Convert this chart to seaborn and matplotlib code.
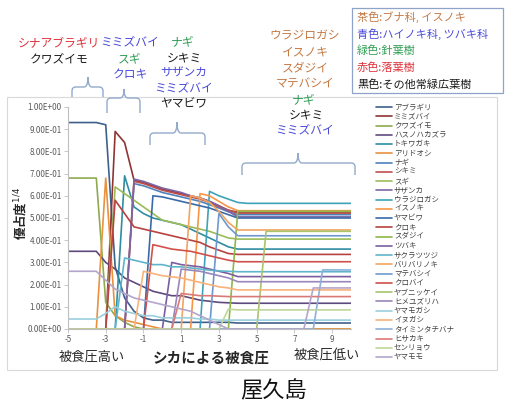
import numpy as np
import pandas as pd
import matplotlib
matplotlib.use("Agg")
import matplotlib.pyplot as plt
from matplotlib.lines import Line2D
from matplotlib.patches import Rectangle, PathPatch
from matplotlib.path import Path
from matplotlib.ticker import FuncFormatter
import seaborn as sns

# ---- data: dominance^(1/4) along the deer browsing-pressure gradient ----
pressure = [-5, -4.5, -4, -3.5, -3, -2.5, -2, -1.5, -1, -0.5, 0, 0.5, 1, 1.5, 2, 2.5,
            3, 3.5, 4, 4.5, 5, 5.5, 6, 6.5, 7, 7.5, 8, 8.5, 9, 9.5, 10]

species = ["アブラギリ", "ミミズバイ", "クワズイモ", "ハスノハカズラ", "トキワガキ", "アリドオシ",
           "ナギ", "シキミ", "スギ", "サザンカ", "ウラジロガシ", "イスノキ", "ヤマビワ", "クロキ",
           "スダジイ", "ツバキ", "サクラツツジ", "バリバリノキ", "マテバシイ", "クロバイ",
           "ヤブニッケイ", "ヒメユズリハ", "ヤマモガシ", "イヌガシ", "タイミンタチバナ",
           "ヒサカキ", "センリョウ", "ヤマモモ"]

aburagiri = [0.93, 0.93, 0.93, 0.93, 0.92, 0.28, 0.14, 0.08, 0.05, 0.04, 0.04, 0.03, 0.03, 0.03, 0.03, 0.03,
             0.03, 0.03, 0.027, 0.027, 0.027, 0.027, 0.027, 0.027, 0.027, 0.027, 0.027, 0.027, 0.027, 0.027, 0.027]
mimizubai = [0, 0, 0, 0, 0, 0.89, 0.84, 0.67, 0.66, 0.645, 0.63, 0.62, 0.61, 0.60, 0.59, 0.575,
             0.555, 0.535, 0.526, 0.526, 0.526, 0.526, 0.526, 0.526, 0.526, 0.526, 0.526, 0.526, 0.526, 0.526, 0.526]
kuwazuimo = [0.68, 0.68, 0.68, 0.68, 0.12, 0.06, 0.03, 0.01, 0, 0, 0, 0, 0, 0, 0, 0,
             0, 0, 0, 0, 0, 0, 0, 0, 0, 0, 0, 0, 0, 0, 0]
hasunohakazura = [0.35, 0.35, 0.35, 0.35, 0.30, 0.27, 0.23, 0.21, 0.19, 0.17, 0.16, 0.15, 0.15, 0.14, 0.13, 0.125,
                  0.12, 0.118, 0.116, 0.116, 0.116, 0.116, 0.116, 0.116, 0.116, 0.116, 0.116, 0.116, 0.116, 0.116, 0.116]
tokiwagaki = [0, 0, 0, 0, 0, 0, 0.69, 0.55, 0.52, 0.50, 0.49, 0.48, 0.47, 0.45, 0.43, 0.41,
              0.39, 0.37, 0.36, 0.36, 0.36, 0.36, 0.36, 0.36, 0.36, 0.36, 0.36, 0.36, 0.36, 0.36, 0.36]
aridooshi = [0, 0, 0, 0, 0.68, 0.06, 0.04, 0.03, 0.02, 0.01, 0, 0, 0, 0, 0, 0,
             0, 0, 0, 0, 0, 0, 0, 0, 0, 0, 0, 0, 0, 0, 0]
nagi = [0, 0, 0, 0, 0, 0, 0, 0.655, 0.645, 0.63, 0.615, 0.605, 0.595, 0.585, 0.575, 0.56,
        0.545, 0.528, 0.515, 0.515, 0.515, 0.515, 0.515, 0.515, 0.515, 0.515, 0.515, 0.515, 0.515, 0.515, 0.515]
shikimi = [0, 0, 0, 0, 0, 0, 0, 0.665, 0.655, 0.64, 0.625, 0.615, 0.605, 0.595, 0.585, 0.57,
           0.55, 0.535, 0.522, 0.522, 0.522, 0.522, 0.522, 0.522, 0.522, 0.522, 0.522, 0.522, 0.522, 0.522, 0.522]
sugi = [0, 0, 0, 0, 0, 0.64, 0.61, 0.58, 0.55, 0.52, 0.49, 0.48, 0.47, 0.46, 0.45, 0.44,
        0.425, 0.41, 0.405, 0.405, 0.405, 0.405, 0.405, 0.405, 0.405, 0.405, 0.405, 0.405, 0.405, 0.405, 0.405]
sazanka = [0, 0, 0, 0, 0, 0, 0, 0.675, 0.665, 0.65, 0.635, 0.625, 0.615, 0.60, 0.59, 0.575,
           0.555, 0.53, 0.505, 0.505, 0.505, 0.505, 0.505, 0.505, 0.505, 0.505, 0.505, 0.505, 0.505, 0.505, 0.505]
urajirogashi = [0, 0, 0, 0, 0, 0, 0, 0, 0, 0, 0, 0, 0, 0, 0, 0.62,
                0.60, 0.585, 0.57, 0.566, 0.566, 0.566, 0.566, 0.566, 0.566, 0.566, 0.566, 0.566, 0.566, 0.566, 0.566]
isunoki = [0, 0, 0, 0, 0, 0, 0, 0, 0, 0, 0, 0, 0, 0, 0.61, 0.60,
           0.575, 0.55, 0.533, 0.533, 0.533, 0.533, 0.533, 0.533, 0.533, 0.533, 0.533, 0.533, 0.533, 0.533, 0.533]
yamabiwa = [0, 0, 0, 0, 0, 0, 0, 0, 0, 0.60, 0.595, 0.585, 0.575, 0.565, 0.555, 0.545,
            0.53, 0.515, 0.50, 0.50, 0.50, 0.50, 0.50, 0.50, 0.50, 0.50, 0.50, 0.50, 0.50, 0.50, 0.50]
kuroki = [0, 0, 0, 0, 0, 0.58, 0.52, 0.46, 0.45, 0.44, 0.43, 0.42, 0.41, 0.40, 0.39, 0.37,
          0.355, 0.34, 0.336, 0.336, 0.336, 0.336, 0.336, 0.336, 0.336, 0.336, 0.336, 0.336, 0.336, 0.336, 0.336]
sudajii = [0, 0, 0, 0, 0, 0, 0, 0, 0, 0, 0, 0, 0, 0, 0, 0,
           0, 0, 0.53, 0.53, 0.53, 0.53, 0.53, 0.53, 0.53, 0.53, 0.53, 0.53, 0.53, 0.53, 0.53]
tsubaki = [0, 0, 0, 0, 0, 0, 0, 0, 0, 0, 0, 0.30, 0.29, 0.285, 0.28, 0.27,
           0.26, 0.25, 0.236, 0.236, 0.236, 0.236, 0.236, 0.236, 0.236, 0.236, 0.236, 0.236, 0.236, 0.236, 0.236]
sakuratsutsuji = [0, 0, 0, 0, 0, 0, 0.32, 0.31, 0.30, 0.29, 0.29, 0.28, 0.28, 0.275, 0.27, 0.265,
                  0.262, 0.26, 0.258, 0.258, 0.258, 0.258, 0.258, 0.258, 0.258, 0.258, 0.258, 0.258, 0.258, 0.258, 0.258]
baribarinoki = [0, 0, 0, 0, 0, 0, 0, 0, 0, 0, 0, 0, 0, 0.60, 0.59, 0.57,
                0.53, 0.48, 0.446, 0.446, 0.446, 0.446, 0.446, 0.446, 0.446, 0.446, 0.446, 0.446, 0.446, 0.446, 0.446]
matebashii = [0, 0, 0, 0, 0, 0, 0, 0, 0, 0, 0, 0, 0, 0, 0, 0,
              0.52, 0.46, 0.42, 0.42, 0.42, 0.42, 0.42, 0.42, 0.42, 0.42, 0.42, 0.42, 0.42, 0.42, 0.42]
kurobai = [0, 0, 0, 0, 0, 0, 0, 0, 0, 0.38, 0.37, 0.36, 0.355, 0.35, 0.34, 0.33,
           0.32, 0.31, 0.303, 0.303, 0.303, 0.303, 0.303, 0.303, 0.303, 0.303, 0.303, 0.303, 0.303, 0.303, 0.303]
yabunikkei = [0, 0, 0, 0, 0, 0, 0, 0, 0, 0, 0, 0, 0, 0, 0, 0,
              0, 0, 0, 0, 0, 0.44, 0.44, 0.44, 0.44, 0.44, 0.44, 0.44, 0.44, 0.44, 0.44]
himeyuzuriha = [0, 0, 0, 0, 0, 0, 0, 0, 0, 0, 0, 0, 0.27, 0.265, 0.26, 0.25,
                0.24, 0.23, 0.213, 0.213, 0.213, 0.213, 0.213, 0.213, 0.213, 0.213, 0.213, 0.213, 0.213, 0.213, 0.213]
yamamogashi = [0.045, 0.045, 0.045, 0.045, 0.07, 0.10, 0.08, 0.07, 0.06, 0.06, 0.05, 0.05, 0.05, 0.05, 0.045, 0.045,
               0.04, 0.04, 0.04, 0.04, 0.04, 0.04, 0.04, 0.04, 0.04, 0.04, 0.04, 0.04, 0.04, 0.04, 0.04]
inugashi = [0, 0, 0, 0, 0, 0, 0, 0, 0.26, 0.25, 0.24, 0.235, 0.23, 0.22, 0.21, 0.20,
            0.19, 0.185, 0.176, 0.176, 0.176, 0.176, 0.176, 0.176, 0.176, 0.176, 0.176, 0.176, 0.176, 0.176, 0.176]
taimintachibana = [0, 0, 0, 0, 0, 0, 0, 0, 0, 0, 0, 0, 0, 0, 0, 0,
                   0, 0, 0, 0, 0, 0, 0, 0, 0, 0, 0, 0.266, 0.266, 0.266, 0.266]
hisakaki = [0, 0, 0, 0, 0, 0, 0, 0, 0, 0, 0, 0, 0.16, 0.155, 0.15, 0.15,
            0.148, 0.146, 0.146, 0.146, 0.146, 0.146, 0.146, 0.146, 0.146, 0.146, 0.146, 0.146, 0.146, 0.146, 0.146]
senryou = [0, 0, 0, 0, 0, 0, 0, 0, 0, 0, 0, 0, 0, 0, 0, 0,
           0, 0.09, 0.086, 0.086, 0.086, 0.086, 0.086, 0.086, 0.086, 0.086, 0.086, 0.086, 0.086, 0.086, 0.086]
yamamomo = [0.26, 0.26, 0.26, 0.26, 0.22, 0.18, 0.16, 0.14, 0.13, 0.12, 0.11, 0.10, 0.09, 0.08, 0.06, 0.04,
            0.02, 0, 0, 0, 0, 0, 0, 0, 0, 0, 0.185, 0.185, 0.185, 0.185, 0.185]

series_values = [aburagiri, mimizubai, kuwazuimo, hasunohakazura, tokiwagaki, aridooshi,
                 nagi, shikimi, sugi, sazanka, urajirogashi, isunoki, yamabiwa, kuroki,
                 sudajii, tsubaki, sakuratsutsuji, baribarinoki, matebashii, kurobai,
                 yabunikkei, himeyuzuriha, yamamogashi, inugashi, taimintachibana,
                 hisakaki, senryou, yamamomo]

line_colors = ["#40608C", "#8E3533", "#8FAA4F", "#5E4A7E", "#2F8DA3", "#E8913F",
               "#4F81BD", "#C0504D", "#9BBB59", "#8064A2", "#3FA3B8", "#F79646",
               "#3B6AA8", "#B8423F", "#8DB84A", "#7B5EA0", "#5FB5CC", "#F4A460",
               "#6E98CD", "#D0504C", "#A8C46E", "#9A86BA", "#9ACFDE", "#F8B27A",
               "#8DB0DA", "#D97A78", "#BFD69A", "#B3A5CC"]

y_ticks = [0, 0.1, 0.2, 0.3, 0.4, 0.5, 0.6, 0.7, 0.8, 0.9, 1.0]
x_ticks = [-5, -3, -1, 1, 3, 5, 7, 9]

rows = []
for name, vals in zip(species, series_values):
    assert len(vals) == len(pressure)
    for p, v in zip(pressure, vals):
        rows.append((name, p, v))
df = pd.DataFrame(rows, columns=["species", "pressure", "value"])

# ---- figure ----
sns.set_theme(style="white")
plt.rcParams["font.family"] = ["Noto Sans CJK JP", "DejaVu Sans"]

W, H = 515, 401
fig = plt.figure(figsize=(W / 100, H / 100), dpi=100)
fig.patch.set_facecolor("white")


def fx(px):
    return px / W


def fy(py):
    return 1 - py / H


# chart area frame
fig.add_artist(Rectangle((fx(7), fy(370)), fx(497) - fx(7), fy(97) - fy(370),
                         transform=fig.transFigure, fill=False, edgecolor="#D9D9D9", lw=0.8))

ax = fig.add_axes([fx(68), fy(329), fx(351) - fx(68), fy(107) - fy(329)])
sns.lineplot(data=df, x="pressure", y="value", hue="species", hue_order=species,
             palette=dict(zip(species, line_colors)), estimator=None, legend=False,
             linewidth=1.2, solid_joinstyle="round", ax=ax)

ax.set_xlim(-5, 10)
ax.set_ylim(0, 1.0)
ax.set_yticks(y_ticks)
ax.set_xticks(x_ticks)
ax.yaxis.set_major_formatter(FuncFormatter(lambda v, p: f"{v:.2E}"))
ax.xaxis.set_major_formatter(FuncFormatter(lambda v, p: f"{v:g}"))
ax.set_xlabel("")
ax.set_ylabel("")
ax.tick_params(axis="both", labelsize=5.8, labelcolor="#595959", color="#BFBFBF",
               length=3, width=0.6, pad=1.5, direction="out")
ax.tick_params(axis="y", left=True)
ax.tick_params(axis="x", bottom=True)
for side in ("top", "right"):
    ax.spines[side].set_visible(False)
for side in ("left", "bottom"):
    ax.spines[side].set_color("#BFBFBF")
    ax.spines[side].set_linewidth(0.8)
ax.set_facecolor("none")

# axis titles
fig.text(fx(21), fy(213), "優占度$^{1/4}$", rotation=90, ha="center", va="center",
         fontsize=9, fontweight="bold", color="#262626")
fig.text(fx(92), fy(357), "被食圧高い", ha="center", va="center", fontsize=9.5, color="#262626")
fig.text(fx(211), fy(358), "シカによる被食圧", ha="center", va="center", fontsize=10.5,
         fontweight="bold", color="#262626")
fig.text(fx(327), fy(355), "被食圧低い", ha="center", va="center", fontsize=9.5, color="#262626")
fig.text(fx(274), fy(391), "屋久島", ha="center", va="center", fontsize=16, color="#111111")

# series legend
for i, (name, col) in enumerate(zip(species, line_colors)):
    yy = 107 + i * 9.26
    fig.add_artist(Line2D([fx(376), fx(392)], [fy(yy), fy(yy)], transform=fig.transFigure,
                          color=col, lw=1.2))
    fig.text(fx(394), fy(yy), name, ha="left", va="center", fontsize=5.4, color="#404040")

# colour key box
fig.add_artist(Rectangle((fx(352), fy(93)), fx(503) - fx(352), fy(8) - fy(93),
                         transform=fig.transFigure, fill=False, edgecolor="#8FA3C8", lw=0.9))
BROWN, BLUE, GREEN, RED, BLACK = "#C47A45", "#4A4AD8", "#2F9E55", "#E0303A", "#1A1A1A"
key_lines = [("茶色:ブナ科, イスノキ", BROWN), ("青色:ハイノキ科, ツバキ科", BLUE),
             ("緑色:針葉樹", GREEN), ("赤色:落葉樹", RED), ("黒色:その他常緑広葉樹", BLACK)]
for j, (txt, col) in enumerate(key_lines):
    fig.text(fx(357), fy(17 + j * 16.8), txt, ha="left", va="center", fontsize=8, color=col)

# dominant species above each pressure range
labels = [
    ("シナアブラギリ", 59, 43, RED), ("クワズイモ", 59, 60, BLACK),
    ("ミミズバイ", 130, 43, BLUE), ("スギ", 130, 59, GREEN), ("クロキ", 130, 75, BLUE),
    ("ナギ", 183, 42, GREEN), ("シキミ", 184, 58, BLACK), ("サザンカ", 184, 73, BLUE),
    ("ミミズバイ", 184, 89, BLUE), ("ヤマビワ", 184, 104, BLACK),
    ("ウラジロガシ", 305, 36, BROWN), ("イスノキ", 305, 52, BROWN), ("スダジイ", 305, 68, BROWN),
    ("マテバシイ", 305, 84, BROWN), ("ナギ", 304, 100, GREEN), ("シキミ", 306, 115, BLACK),
    ("ミミズバイ", 305, 131, BLUE),
]
for txt, x, y, col in labels:
    fig.text(fx(x), fy(y), txt, ha="center", va="center", fontsize=8.5, color=col)


def brace(x0, x1, xm, y_end, y_line, y_tip, r=4):
    pts = [(x0, y_end), (x0, y_line + r), (x0, y_line), (x0 + r, y_line),
           (xm - r, y_line), (xm, y_line), (xm, y_tip), (xm, y_line), (xm + r, y_line),
           (x1 - r, y_line), (x1, y_line), (x1, y_line + r), (x1, y_end)]
    codes = [Path.MOVETO, Path.LINETO, Path.CURVE3, Path.CURVE3,
             Path.LINETO, Path.CURVE3, Path.CURVE3, Path.CURVE3, Path.CURVE3,
             Path.LINETO, Path.CURVE3, Path.CURVE3, Path.LINETO]
    path = Path([(fx(a), fy(b)) for a, b in pts], codes)
    fig.add_artist(PathPatch(path, transform=fig.transFigure, fill=False,
                             edgecolor="#93AACB", lw=1.0))


brace(72, 103, 88, 97, 87, 77)
brace(107, 140, 124, 113, 98, 89)
brace(150, 205, 177, 145, 133, 122)
brace(242, 355, 298, 175, 163, 153)

fig.savefig("out.png", dpi=100, facecolor="white")
